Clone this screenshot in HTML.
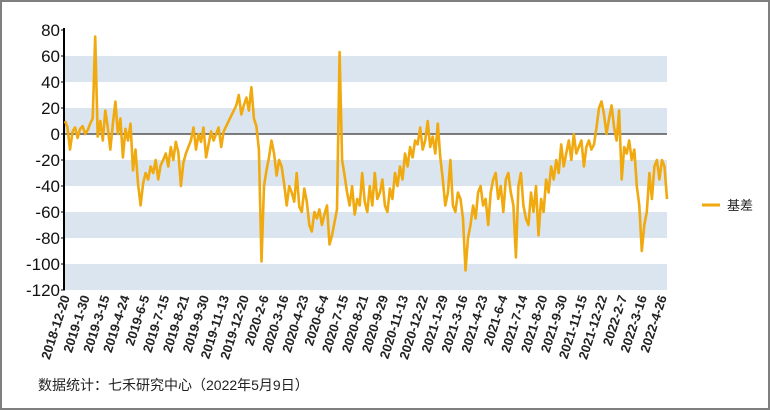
<!DOCTYPE html>
<html><head><meta charset="utf-8"><style>
html,body{margin:0;padding:0;background:#fff}
svg{display:block;font-family:"Liberation Sans","Noto Sans CJK SC",sans-serif}
</style></head><body>
<svg width="770" height="410" viewBox="0 0 770 410">
<rect x="1" y="1" width="768" height="408" fill="#fff" stroke="#7f7f7f" stroke-width="2"/>
<g id="bands"></g>
<g id="yaxis"></g>
<g id="xaxis"></g>
<g id="series"></g>
<g>
<line x1="702" y1="205" x2="720" y2="205" stroke="#F0A90F" stroke-width="3"/>
<text x="727" y="210" font-size="13" fill="#222">基差</text>
</g>
<text x="38" y="390" font-size="14" fill="#222">数据统计：七禾研究中心（2022年5月9日）</text>
</svg>
<script>
const yTicks=[80,60,40,20,0,-20,-40,-60,-80,-100,-120];
const xLabels=["2018-12-20","2019-1-30","2019-3-15","2019-4-24","2019-6-5","2019-7-15","2019-8-21","2019-9-30","2019-11-13","2019-12-20","2020-2-6","2020-3-16","2020-4-23","2020-6-4","2020-7-15","2020-8-21","2020-9-29","2020-11-13","2020-12-22","2021-1-29","2021-3-16","2021-4-23","2021-6-4","2021-7-14","2021-8-20","2021-9-30","2021-11-15","2021-12-22","2022-2-7","2022-3-16","2022-4-26"];
const basis=[10,5,-12,2,5,-3,4,6,0,3,
8,12,75,-2,10,-5,18,5,-12,8,
25,0,12,-18,4,-5,8,-28,-12,-38,
-55,-38,-30,-35,-25,-30,-20,-35,-24,-20,
-15,-25,-10,-20,-6,-14,-40,-22,-15,-10,
-5,5,-12,0,-6,5,-18,-8,2,-5,
0,5,-10,2,6,10,14,18,22,30,
15,22,28,18,36,12,6,-12,-98,-40,
-28,-18,-5,-15,-32,-20,-25,-38,-55,-40,
-45,-52,-30,-56,-60,-42,-52,-70,-75,-60,
-65,-58,-70,-62,-55,-85,-78,-68,-58,63,
-20,-32,-45,-55,-40,-62,-50,-55,-30,-52,
-60,-40,-55,-30,-50,-45,-35,-55,-60,-42,
-50,-30,-40,-25,-35,-15,-25,-10,-18,-5,
-8,5,-12,-5,10,-10,-2,-15,8,-18,
-35,-55,-45,-20,-55,-60,-45,-50,-65,-105,
-80,-70,-55,-65,-45,-40,-55,-50,-70,-45,
-35,-30,-50,-40,-60,-35,-30,-45,-55,-95,
-40,-30,-55,-65,-70,-45,-60,-40,-78,-50,
-60,-35,-45,-25,-35,-20,-30,-8,-25,-15,
-5,-20,0,-15,-10,-5,-25,-10,-5,-12,
-8,5,20,25,15,0,12,22,5,-5,
18,-35,-10,-15,-5,-20,-12,-40,-55,-90,
-70,-60,-30,-50,-25,-20,-35,-20,-25,-50];
const NS="http://www.w3.org/2000/svg";
const X0=65,X1=667,YTOP=30,YBOT=290,VMAX=80,VMIN=-120;
const yScale=v=>YTOP+(VMAX-v)*(YBOT-YTOP)/(VMAX-VMIN);
const xScale=i=>X0+i*(X1-X0)/(basis.length-1);
function mk(tag,attrs,parent){const e=document.createElementNS(NS,tag);for(const k in attrs)e.setAttribute(k,attrs[k]);parent.appendChild(e);return e;}
const bands=document.getElementById('bands');
for(let v=60;v>VMIN;v-=40){
 const r=mk('rect',{x:X0,y:yScale(v),width:X1-X0,height:yScale(v-20)-yScale(v),fill:'#DAE5F0'},bands);
 
 
}
const ya=document.getElementById('yaxis');
yTicks.forEach(t=>{
 const tx=mk('text',{x:60,y:yScale(t)+6,'font-size':17,'text-anchor':'end',fill:'#111'},ya);
 tx.textContent=t;
 
 
 const tk=mk('line',{x1:61,x2:65,y1:yScale(t),y2:yScale(t),stroke:'#000','stroke-width':1},ya);
 
 
});
const zl=mk('line',{x1:X0,x2:X1,y1:yScale(0),y2:yScale(0),stroke:'#555','stroke-width':1.5},ya);


const al=mk('line',{x1:64,x2:64,y1:YTOP-2,y2:YBOT,stroke:'#000','stroke-width':2},ya);


const xa=document.getElementById('xaxis');
xLabels.forEach((l,i)=>{
 const x=X0+5+i*(X1-X0-5)/(xLabels.length-1);
 const t=mk('text',{x:x,y:297,'font-size':13,'font-weight':'bold','text-anchor':'end',fill:'#222',transform:`rotate(-72 ${x} 297)`},xa);
 t.textContent=l;
 
 
});
const pts=basis.map((v,i)=>xScale(i).toFixed(1)+','+yScale(v).toFixed(1)).join(' ');
const pl=mk('polyline',{points:pts,fill:'none',stroke:'#F0A90F','stroke-width':2.6,'stroke-linejoin':'round'},document.getElementById('series'));


</script>
</body></html>
